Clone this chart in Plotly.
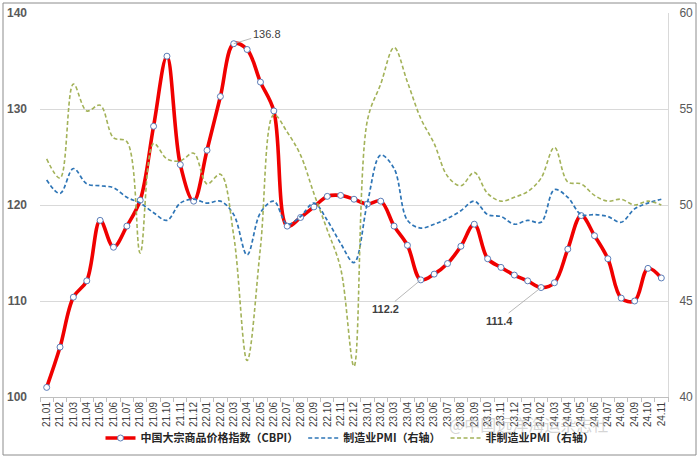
import plotly.graph_objects as go

months = ["21.01","21.02","21.03","21.04","21.05","21.06","21.07","21.08","21.09","21.10","21.11","21.12",
          "22.01","22.02","22.03","22.04","22.05","22.06","22.07","22.08","22.09","22.10","22.11","22.12",
          "23.01","23.02","23.03","23.04","23.05","23.06","23.07","23.08","23.09","23.10","23.11","23.12",
          "24.01","24.02","24.03","24.04","24.05","24.06","24.07","24.08","24.09","24.10","24.11"]

cbpi = [101.0,105.2,110.4,112.1,118.4,115.6,117.8,120.5,128.2,135.5,124.2,120.4,
        125.7,131.3,136.8,136.2,132.8,129.8,117.8,118.7,119.8,120.9,121.0,120.6,
        120.1,120.4,117.8,115.8,112.2,112.8,113.9,115.7,118.0,114.4,113.5,112.7,
        112.1,111.4,111.9,115.4,118.9,116.8,114.4,110.3,110.0,113.4,112.4]

pmi_mfg = [51.3,50.6,51.9,51.1,51.0,50.9,50.4,50.1,49.6,49.2,50.1,50.3,
           50.1,50.2,49.5,47.4,49.6,50.2,49.0,49.4,50.1,49.2,48.0,47.0,
           50.1,52.6,51.9,49.2,48.8,49.0,49.3,49.7,50.2,49.5,49.4,49.0,
           49.2,49.1,50.8,50.4,49.5,49.5,49.4,49.1,49.8,50.1,50.3]

pmi_non = [52.4,51.4,56.3,54.9,55.2,53.5,53.3,47.5,53.2,52.4,52.3,52.7,
           51.1,51.6,48.4,41.9,47.8,54.7,53.8,52.6,50.6,48.7,46.7,41.6,
           54.4,56.3,58.2,56.4,54.5,53.2,51.5,51.0,51.7,50.6,50.2,50.4,
           50.7,51.4,53.0,51.2,51.1,50.5,50.2,50.3,50.0,50.2,50.0]

labels = [("22.03", 136.8, "136.8", 33, -10, False),
          ("23.05", 112.2, "112.2", -35, 29, True),
          ("24.02", 111.4, "111.4", -42, 33, True)]

num_font = "Liberation Sans, Arial, sans-serif"
cjk_font = "Noto Sans CJK SC, sans-serif"

W, H = 700, 458
L, R, T, B = 40, 32, 13, 61
pw, ph = W - L - R, H - T - B

def px(xp):
    return (xp - L) / pw

def py(yp):
    return (H - B - yp) / ph

fig = go.Figure()
fig.add_trace(go.Scatter(
    x=months, y=cbpi, name="中国大宗商品价格指数（CBPI）", mode="lines+markers",
    line=dict(color="#F00000", width=3.6, shape="spline", smoothing=1),
    marker=dict(symbol="circle", size=6, color="white", line=dict(color="#5B7DB8", width=1)),
    yaxis="y"))
fig.add_trace(go.Scatter(
    x=months, y=pmi_mfg, name="制造业PMI（右轴）", mode="lines",
    line=dict(color="#2E75B6", width=1.7, dash="4px,2.5px", shape="spline", smoothing=1),
    yaxis="y2"))
fig.add_trace(go.Scatter(
    x=months, y=pmi_non, name="非制造业PMI（右轴）", mode="lines",
    line=dict(color="#A3B259", width=1.6, dash="4px,2.5px", shape="spline", smoothing=1),
    yaxis="y2"))

for m, v, t, ax, ay, bold in labels:
    fig.add_annotation(x=months.index(m), y=v, xref="x", yref="y",
                       text=("<b>%s</b>" % t) if bold else t,
                       showarrow=True, ax=ax, ay=ay, arrowhead=0, arrowwidth=0.8,
                       arrowcolor="#A6A6A6", font=dict(family=num_font, size=11, color="#404040"))

fig.add_annotation(x=px(610), y=py(438), xref="paper", yref="paper", text="@中国远洋海运杂志社",
                   showarrow=False, font=dict(family=cjk_font, size=16, color="rgba(185,185,185,0.6)"))

fig.add_shape(type="rect", xref="paper", yref="paper", x0=px(3), x1=px(696), y0=py(455), y1=py(3),
              line=dict(color="#8C8C8C", width=1), fillcolor="rgba(0,0,0,0)", layer="below")

fig.update_layout(
    width=W, height=H, margin=dict(l=L, r=R, t=T, b=B, autoexpand=False),
    paper_bgcolor="white", plot_bgcolor="white",
    showlegend=True,
    legend=dict(orientation="h", xref="container", yref="container", x=0.5, xanchor="center",
                y=1 - 438 / H, yanchor="middle",
                font=dict(family=cjk_font, size=11, color="#262626", weight="bold"), itemwidth=30,
                bgcolor="rgba(0,0,0,0)"),
    xaxis=dict(type="category", categoryorder="array", categoryarray=months, automargin=False,
               range=[-0.5, len(months) - 0.5], tickangle=-90,
               tickfont=dict(family=num_font, size=10, color="#404040"),
               ticks="outside", tickson="boundaries", ticklen=4, tickcolor="#BFBFBF",
               showline=True, linecolor="#BFBFBF", linewidth=1, showgrid=False, zeroline=False),
    yaxis=dict(range=[100, 140], dtick=10, showgrid=True, gridcolor="#D9D9D9", gridwidth=1,
               automargin=False, showline=False, zeroline=False, ticks="", ticklabelstandoff=12,
               tickfont=dict(family=num_font, size=12, color="#595959", weight="bold")),
    yaxis2=dict(range=[40, 60], dtick=5, overlaying="y", side="right", showgrid=False, automargin=False,
                showline=True, linecolor="#D9D9D9", zeroline=False, ticks="", ticklabelstandoff=8,
                tickfont=dict(family=num_font, size=12, color="#595959")),
)

fig.write_html("out.html", config={"displayModeBar": False},
               post_script="document.body.style.margin='0px';")
